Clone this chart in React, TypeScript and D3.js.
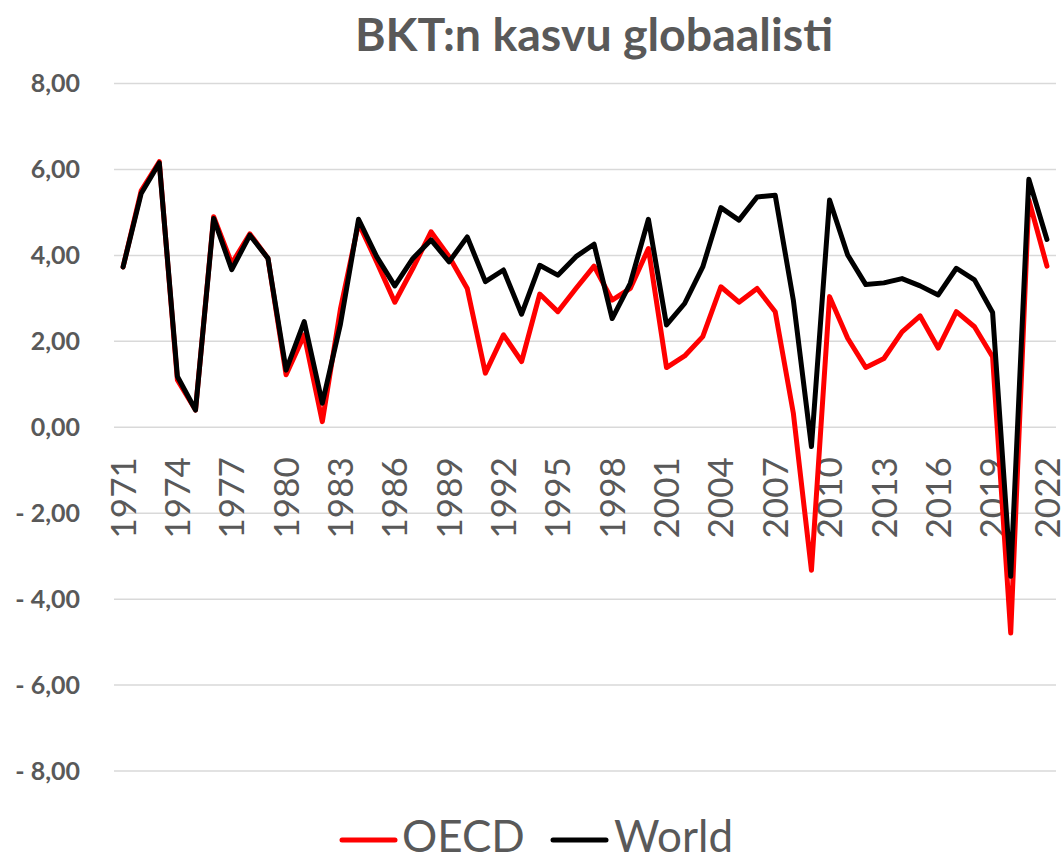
import React, { useEffect, useRef } from 'react';
import * as d3 from 'd3';

// Chart data
const years = [
  1971, 1972, 1973, 1974, 1975, 1976, 1977, 1978, 1979, 1980,
  1981, 1982, 1983, 1984, 1985, 1986, 1987, 1988, 1989, 1990,
  1991, 1992, 1993, 1994, 1995, 1996, 1997, 1998, 1999, 2000,
  2001, 2002, 2003, 2004, 2005, 2006, 2007, 2008, 2009, 2010,
  2011, 2012, 2013, 2014, 2015, 2016, 2017, 2018, 2019, 2020,
  2021, 2022,
];

const oecd = [
  3.73, 5.5, 6.18, 1.1, 0.4, 4.9, 3.81, 4.5, 3.93, 1.22,
  2.15, 0.13, 2.75, 4.75, 3.85, 2.91, 3.7, 4.55, 3.97, 3.23,
  1.26, 2.15, 1.53, 3.1, 2.69, 3.23, 3.75, 2.96, 3.23, 4.16,
  1.39, 1.66, 2.11, 3.27, 2.91, 3.23, 2.69, 0.33, -3.33, 3.04,
  2.07, 1.39, 1.6, 2.22, 2.59, 1.84, 2.69, 2.34, 1.64, -4.79,
  5.29, 3.75,
];

const world = [
  3.73, 5.44, 6.15, 1.18, 0.4, 4.86, 3.67, 4.47, 3.93, 1.33,
  2.46, 0.56, 2.4, 4.84, 3.97, 3.29, 3.93, 4.36, 3.85, 4.43,
  3.39, 3.66, 2.63, 3.77, 3.54, 3.97, 4.26, 2.53, 3.35, 4.84,
  2.38, 2.88, 3.73, 5.11, 4.82, 5.36, 5.4, 2.96, -0.45, 5.29,
  4.01, 3.32, 3.36, 3.46, 3.29, 3.08, 3.7, 3.43, 2.67, -3.47,
  5.77, 4.37,
];

const yTicks = [-8, -6, -4, -2, 0, 2, 4, 6, 8];
const xTickYears = [1971, 1974, 1977, 1980, 1983, 1986, 1989, 1992, 1995, 1998, 2001, 2004, 2007, 2010, 2013, 2016, 2019, 2022];

const seriesNames = ['OECD', 'World'];
const seriesColors = ['#ff0000', '#000000'];

const width = 1064;
const height = 862;
const plot = { left: 114, right: 1056, top: 83.5, bottom: 771 };
const textColor = '#595959';
const font = 'Lato, "Open Sans", sans-serif';

function fmt(v: number) {
  const s = Math.abs(v).toFixed(2).replace('.', ',');
  return v < 0 ? `- ${s}` : s;
}

const App: React.FC = () => {
  const svgRef = useRef<SVGSVGElement>(null);

  useEffect(() => {
    if (!svgRef.current) return;
    const svg = d3.select(svgRef.current);
    svg.selectAll('*').remove();
    svg.attr('font-family', font);

    const x = d3.scaleBand<number>()
      .domain(years)
      .range([plot.left, plot.right])
      .padding(0);
    const cx = (yr: number) => (x(yr) ?? 0) + x.bandwidth() / 2;

    const y = d3.scaleLinear()
      .domain([-8, 8])
      .range([plot.bottom, plot.top]);

    // title
    svg.append('text')
      .attr('x', 594)
      .attr('y', 51)
      .attr('text-anchor', 'middle')
      .attr('font-size', 46.5)
      .attr('font-weight', 700)
      .attr('fill', textColor)
      .text('BKT:n kasvu globaalisti');

    // gridlines
    svg.append('g')
      .selectAll('line')
      .data(yTicks)
      .join('line')
      .attr('x1', plot.left)
      .attr('x2', plot.right)
      .attr('y1', d => y(d))
      .attr('y2', d => y(d))
      .attr('stroke', '#d9d9d9')
      .attr('stroke-width', 1.5);

    // y labels
    svg.append('g')
      .selectAll('text')
      .data(yTicks)
      .join('text')
      .attr('x', 80)
      .attr('y', d => y(d))
      .attr('dy', '0.35em')
      .attr('text-anchor', 'end')
      .attr('font-size', 25)
      .attr('font-weight', 700)
      .attr('fill', textColor)
      .text(d => fmt(d));

    // x labels, rotated, hanging below the zero line
    svg.append('g')
      .selectAll('text')
      .data(xTickYears)
      .join('text')
      .attr('transform', d => `translate(${cx(d)},${y(0) + 30}) rotate(-90)`)
      .attr('dy', '0.36em')
      .attr('text-anchor', 'end')
      .attr('font-size', 35)
      .attr('fill', textColor)
      .text(d => String(d));

    // lines
    const series = [oecd, world];
    const line = d3.line<number>()
      .x((_, i) => cx(years[i]))
      .y(d => y(d));

    svg.append('g')
      .selectAll('path')
      .data(series)
      .join('path')
      .attr('d', d => line(d))
      .attr('fill', 'none')
      .attr('stroke', (_, i) => seriesColors[i])
      .attr('stroke-width', 5)
      .attr('stroke-linejoin', 'round')
      .attr('stroke-linecap', 'round');

    // legend
    const legendPos = [{ lx: 342, tx: 402 }, { lx: 553, tx: 614 }];
    const legend = svg.append('g')
      .selectAll('g')
      .data(seriesNames)
      .join('g');
    legend.append('line')
      .attr('x1', (_, i) => legendPos[i].lx)
      .attr('x2', (_, i) => legendPos[i].lx + 53)
      .attr('y1', 840)
      .attr('y2', 840)
      .attr('stroke', (_, i) => seriesColors[i])
      .attr('stroke-width', 5)
      .attr('stroke-linecap', 'round');
    legend.append('text')
      .attr('x', (_, i) => legendPos[i].tx)
      .attr('y', 852)
      .attr('font-size', 44)
      .attr('fill', textColor)
      .text(d => d);
  }, []);

  return (
    <svg
      ref={svgRef}
      width={width}
      height={height}
      style={{ position: 'absolute', left: 0, top: 0, background: '#fff' }}
    />
  );
};

export default App;
